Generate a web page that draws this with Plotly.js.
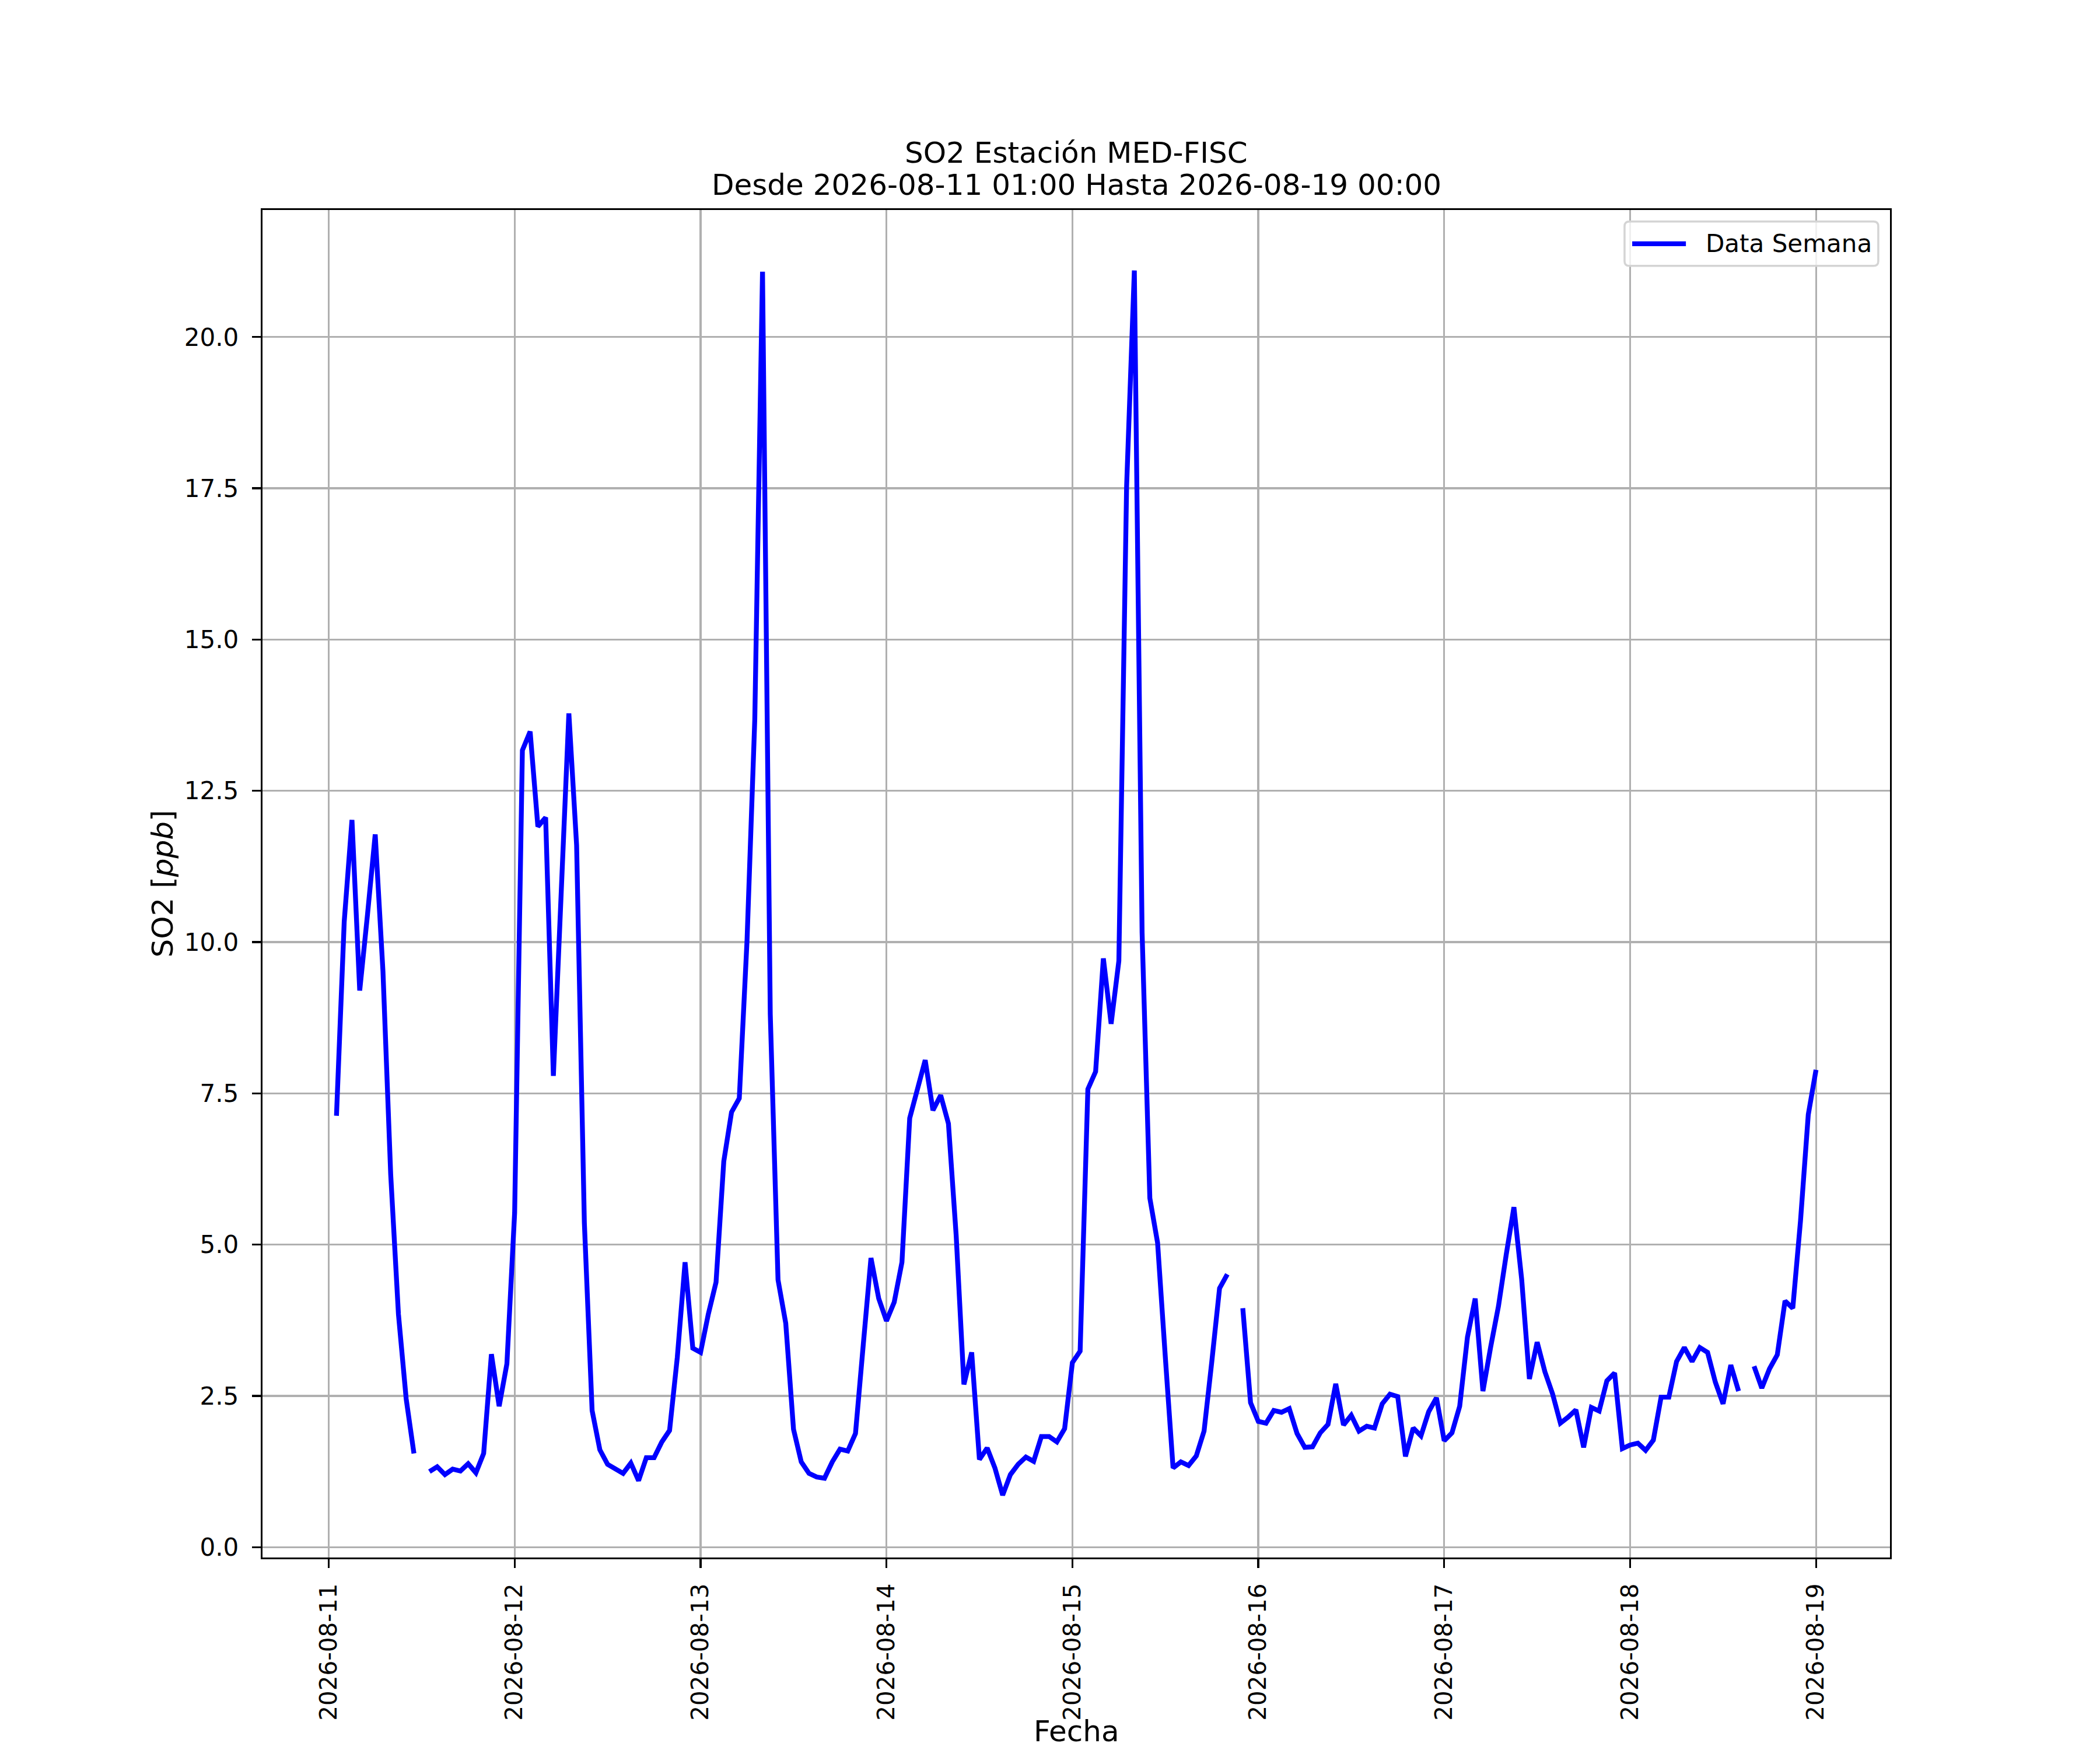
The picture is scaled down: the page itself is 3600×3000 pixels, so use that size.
<!DOCTYPE html>
<html>
<head>
<meta charset="utf-8">
<script src="https://cdn.plot.ly/plotly-3.0.1.min.js"></script>
<style>
  html, body { margin: 0; padding: 0; background: #ffffff; }
  #plot { width: 3600px; height: 3000px; }
</style>
</head>
<body>
<div id="plot"></div>
<script>
// hourly SO2 readings, one array per day (hour 01:00 ... 24:00 = next 00:00)
// null marks a missing hour (gap in the line)
//
const start_time = '2026-08-11T01:00:00';

const day_11 = [7.13, 10.34, 12.02, 9.20, 10.45, 11.78, 9.52, 6.16, 3.85, 2.45, 1.55, null,
                1.25, 1.33, 1.20, 1.29, 1.26, 1.38, 1.23, 1.55, 3.19, 2.33, 3.03, 5.53];
const day_12 = [13.17, 13.48, 11.91, 12.06, 7.79, 11.00, 13.78, 11.60, 5.36, 2.26, 1.61, 1.37,
                1.30, 1.22, 1.39, 1.10, 1.48, 1.48, 1.74, 1.93, 3.14, 4.71, 3.29, 3.22];
const day_13 = [3.85, 4.38, 6.38, 7.19, 7.42, 10.03, 13.68, 21.08, 8.81, 4.42, 3.70, 1.95,
                1.41, 1.22, 1.16, 1.14, 1.41, 1.62, 1.59, 1.88, 3.34, 4.78, 4.11, 3.74];
const day_14 = [4.05, 4.71, 7.09, 7.60, 8.05, 7.22, 7.47, 7.00, 5.15, 2.69, 3.22, 1.45,
                1.64, 1.31, 0.86, 1.20, 1.37, 1.49, 1.42, 1.83, 1.83, 1.74, 1.96, 3.05];
const day_15 = [3.24, 7.57, 7.86, 9.73, 8.65, 9.69, 17.53, 21.10, 10.16, 5.77, 5.03, 3.14,
                1.31, 1.41, 1.35, 1.51, 1.92, 3.07, 4.28, 4.51, null, 3.95, 2.39, 2.08];
const day_16 = [2.05, 2.26, 2.23, 2.29, 1.88, 1.65, 1.66, 1.89, 2.03, 2.70, 2.02, 2.18,
                1.92, 2.00, 1.97, 2.37, 2.53, 2.49, 1.50, 1.97, 1.84, 2.24, 2.47, 1.76];
const day_17 = [1.89, 2.33, 3.47, 4.11, 2.58, 3.31, 3.98, 4.83, 5.62, 4.43, 2.78, 3.39,
                2.90, 2.53, 2.05, 2.15, 2.27, 1.65, 2.31, 2.25, 2.75, 2.88, 1.63, 1.69];
const day_18 = [1.72, 1.60, 1.77, 2.48, 2.48, 3.07, 3.30, 3.07, 3.30, 3.22, 2.73, 2.37,
                3.01, 2.58, null, 2.99, 2.63, 2.95, 3.18, 4.07, 3.95, 5.40, 7.15, 7.89];

// y tick values
//
const y_ticks = [0, 2.5, 5, 7.5, 10, 12.5, 15, 17.5, 20];

// title lines, axis labels and legend label
//
const title_lines = ['SO2 Estación MED-FISC',
                     'Desde 2026-08-11 01:00 Hasta 2026-08-19 00:00'];
const x_label = 'Fecha';
const y_label = 'SO2 [<i>ppb</i>]';
const series_name = 'Data Semana';

// put the days together and build hourly timestamps
//
const so2 = [].concat(day_11, day_12, day_13, day_14, day_15, day_16, day_17, day_18);

function pad(n) {
  return (n < 10 ? '0' : '') + n;
}

const times = [];
const t0 = new Date(start_time + 'Z').getTime();
for (let i = 0; i < so2.length; i++) {
  const d = new Date(t0 + i * 3600000);
  times.push(d.getUTCFullYear() + '-' + pad(d.getUTCMonth() + 1) + '-' +
             pad(d.getUTCDate()) + ' ' + pad(d.getUTCHours()) + ':00');
}

const line_color = '#0000ff';
const line_width = 8.3;

// trace
//
const data = [{
  x: times,
  y: so2,
  type: 'scatter',
  mode: 'lines',
  name: series_name,
  connectgaps: false,
  line: { color: line_color, width: line_width }
}];

const font_family = '"DejaVu Sans", "Liberation Sans", sans-serif';

// legend box drawn in paper coordinates, matplotlib style (rounded frame)
//
function rounded_box(x0, y0, x1, y1, rx, ry) {
  return 'M' + (x0 + rx) + ',' + y1 +
         ' L' + (x1 - rx) + ',' + y1 +
         ' Q' + x1 + ',' + y1 + ' ' + x1 + ',' + (y1 - ry) +
         ' L' + x1 + ',' + (y0 + ry) +
         ' Q' + x1 + ',' + y0 + ' ' + (x1 - rx) + ',' + y0 +
         ' L' + (x0 + rx) + ',' + y0 +
         ' Q' + x0 + ',' + y0 + ' ' + x0 + ',' + (y0 + ry) +
         ' L' + x0 + ',' + (y1 - ry) +
         ' Q' + x0 + ',' + y1 + ' ' + (x0 + rx) + ',' + y1 + ' Z';
}

const leg_x0 = 0.8369, leg_x1 = 0.9928, leg_y0 = 0.9585, leg_y1 = 0.9914;
const leg_mid = (leg_y0 + leg_y1) / 2;

const shapes = [
  {
    type: 'path',
    xref: 'paper', yref: 'paper',
    path: rounded_box(leg_x0, leg_y0, leg_x1, leg_y1, 0.003, 0.0035),
    fillcolor: 'rgba(255,255,255,0.8)',
    line: { color: '#d4d4d4', width: 3.5 }
  },
  {
    type: 'line',
    xref: 'paper', yref: 'paper',
    x0: 0.8416, x1: 0.8746, y0: leg_mid, y1: leg_mid,
    line: { color: line_color, width: line_width }
  }
];

const annotations = [
  {
    text: title_lines[0],
    xref: 'paper', yref: 'paper',
    x: 0.5, y: 1.0424,
    xanchor: 'center', yanchor: 'middle',
    showarrow: false,
    font: { family: font_family, size: 50, color: '#000000' }
  },
  {
    text: title_lines[1],
    xref: 'paper', yref: 'paper',
    x: 0.5, y: 1.0186,
    xanchor: 'center', yanchor: 'middle',
    showarrow: false,
    font: { family: font_family, size: 50, color: '#000000' }
  },
  {
    // x axis label, placed under the rotated date labels
    text: x_label,
    xref: 'paper', yref: 'paper',
    x: 0.5, y: -0.1425,
    xanchor: 'center', yanchor: 'bottom',
    showarrow: false,
    font: { family: font_family, size: 50, color: '#000000' }
  },
  {
    text: series_name,
    xref: 'paper', yref: 'paper',
    x: 0.8860, y: leg_mid,
    xanchor: 'left', yanchor: 'middle',
    showarrow: false,
    font: { family: font_family, size: 42, color: '#000000' }
  }
];

const layout = {
  width: 3600,
  height: 3000,
  paper_bgcolor: '#ffffff',
  plot_bgcolor: '#ffffff',
  font: { family: font_family, size: 42, color: '#000000' },
  margin: { l: 450, r: 360, t: 360, b: 330 },
  showlegend: false,
  shapes: shapes,
  annotations: annotations,
  xaxis: {
    type: 'date',
    range: ['2026-08-10 15:27', '2026-08-19 09:33'],
    tick0: '2026-08-11',
    dtick: 86400000,
    tickformat: '%Y-%m-%d',
    tickangle: -90,
    ticks: 'outside',
    ticklen: 15,
    tickwidth: 3.3,
    tickcolor: '#000000',
    ticklabelstandoff: 10,
    tickfont: { family: font_family, size: 40.5, color: '#000000' },
    showgrid: true,
    gridcolor: '#b0b0b0',
    gridwidth: 3.3,
    zeroline: false,
    showline: true,
    mirror: true,
    linecolor: '#000000',
    linewidth: 3.3
  },
  yaxis: {
    range: [-0.17, 22.1],
    tickmode: 'array',
    tickvals: y_ticks,
    tickformat: '.1f',
    ticks: 'outside',
    ticklen: 15,
    tickwidth: 3.3,
    tickcolor: '#000000',
    ticklabelstandoff: 14,
    tickfont: { family: font_family, size: 42, color: '#000000' },
    showgrid: true,
    gridcolor: '#b0b0b0',
    gridwidth: 3.3,
    zeroline: false,
    showline: true,
    mirror: true,
    linecolor: '#000000',
    linewidth: 3.3,
    title: {
      text: y_label,
      font: { family: font_family, size: 50, color: '#000000' },
      standoff: 4
    }
  }
};

const config = { staticPlot: true, displayModeBar: false };

Plotly.newPlot(document.getElementById('plot'), data, layout, config);
</script>
</body>
</html>
